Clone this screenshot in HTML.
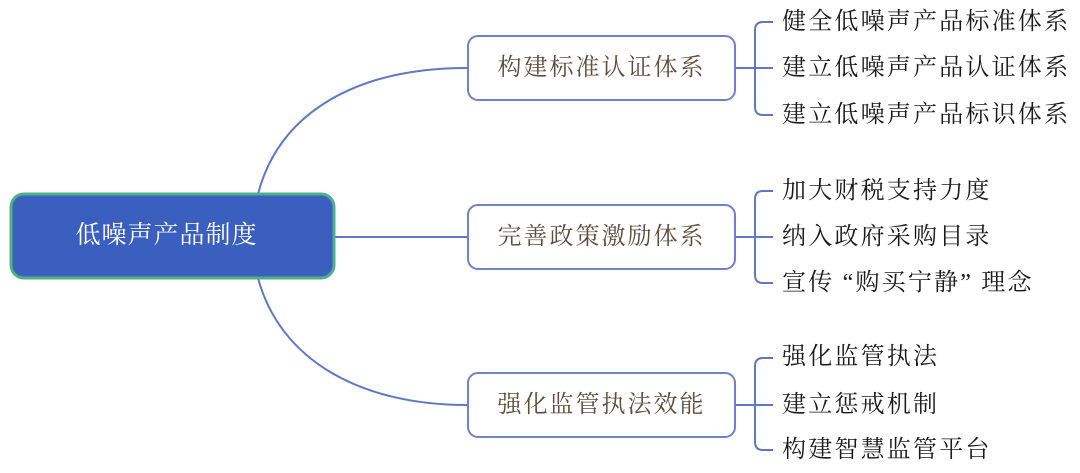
<!DOCTYPE html>
<html><head><meta charset="utf-8"><style>
body{margin:0;background:#fff;width:1080px;height:473px;overflow:hidden;position:relative;font-family:"Liberation Serif","Noto Serif CJK SC",serif}
.t{position:absolute;left:782px;font-size:24px;letter-spacing:2.2px;color:#1a1a1a;line-height:30px;white-space:pre}
.b{position:absolute;left:467px;width:265px;height:62px;border:2px solid #6f82c8;border-radius:11px;box-sizing:content-box;color:#5e4d3c;font-size:24px;letter-spacing:2px;text-align:center;line-height:62px;background:#fff}
</style></head><body>
<svg width="1080" height="473" style="position:absolute;left:0;top:0">
<g fill="none" stroke="#5f78c4" stroke-width="2">
<path d="M258 194 C 280 110, 360 68, 467 68"/>
<path d="M335 237 L467 237"/>
<path d="M258 278 C 280 360, 360 405, 467 405"/>
<path d="M734 68 L755 68 M773 22 L763 22 Q755 22 755 30 L755 107 Q755 115 763 115 L773 115 M755 68 L773 68"/>
<path d="M734 237 L755 237 M773 191 L763 191 Q755 191 755 199 L755 275 Q755 283 763 283 L773 283 M755 237 L773 237"/>
<path d="M734 405 L755 405 M773 358 L763 358 Q755 358 755 366 L755 442 Q755 450 763 450 L773 450 M755 405 L773 405"/>
</g>
<rect x="11" y="194" width="323" height="84" rx="13" fill="#3a5fbe" stroke="#4fb08a" stroke-width="3"/>
</svg>
<div style="position:absolute;left:5px;top:194px;width:323px;height:84px;line-height:84px;text-align:center;color:#fff;font-size:25px;letter-spacing:1px">低噪声产品制度</div>
<div class="b" style="top:35px">构建标准认证体系</div>
<div class="b" style="top:204px">完善政策激励体系</div>
<div class="b" style="top:372px">强化监管执法效能</div>
<div class="t" style="top:7px">健全低噪声产品标准体系</div>
<div class="t" style="top:53px">建立低噪声产品认证体系</div>
<div class="t" style="top:100px">建立低噪声产品标识体系</div>
<div class="t" style="top:176px">加大财税支持力度</div>
<div class="t" style="top:222px">纳入政府采购目录</div>
<div class="t" style="top:268px">宣传 “购买宁静” 理念</div>
<div class="t" style="top:342px">强化监管执法</div>
<div class="t" style="top:390px">建立惩戒机制</div>
<div class="t" style="top:435px">构建智慧监管平台</div>
</body></html>
